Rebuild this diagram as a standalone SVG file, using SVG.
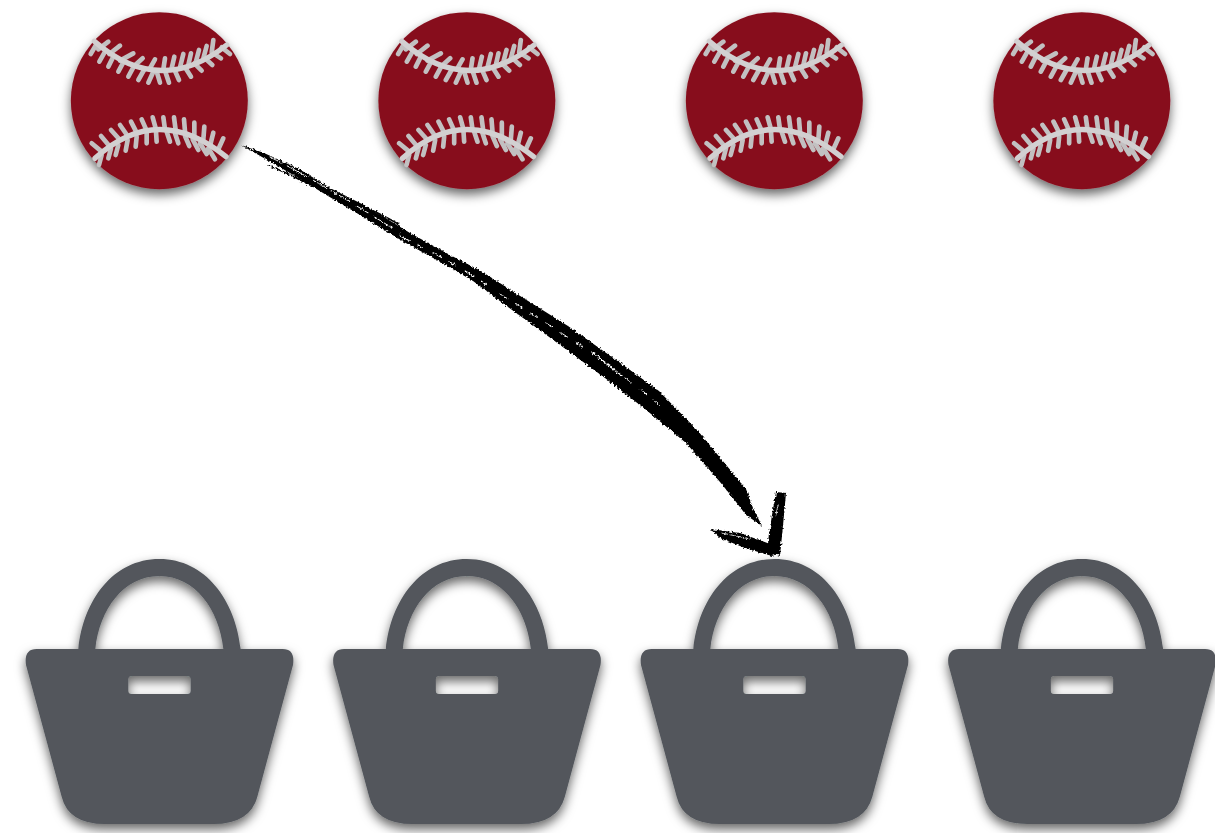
<svg xmlns="http://www.w3.org/2000/svg" width="1215" height="833" viewBox="0 0 1215 833">
<style>
.seam{fill:none;stroke-linecap:round}
.main{stroke:#d2d0d1;stroke-width:16}
.tick{stroke:#c2c0c1;stroke-width:14}
.ball{fill:#87101f}
.bag{fill:#52565c;fill-rule:evenodd}
.ink{fill:#000}
.streak{fill:none;stroke:#fff;stroke-linecap:round}
.strand{fill:none;stroke:#000;stroke-linecap:round}
</style>
<defs>
<filter id="shadow" x="-15%" y="-15%" width="130%" height="135%">
<feDropShadow dx="0" dy="16" stdDeviation="16" flood-color="#000" flood-opacity="0.6"/>
</filter>
<filter id="soft" x="-5%" y="-5%" width="110%" height="110%">
<feGaussianBlur stdDeviation="1.4"/>
</filter>
<filter id="brush" filterUnits="userSpaceOnUse" x="220" y="130" width="590" height="440">
<feTurbulence type="fractalNoise" baseFrequency="0.5" numOctaves="2" seed="4" result="n"/>
<feDisplacementMap in="SourceGraphic" in2="n" scale="4" xChannelSelector="R" yChannelSelector="G"/>
</filter>
<g id="ball-art">
<circle class="ball" cx="298" cy="302" r="265.5" filter="url(#shadow)"/>
<g filter="url(#soft)">
<path class="seam tick" d="M145,125L115,148M180,137L148,162M220,160L180,182M248,175L220,200M285,178L268,208M315,175L310,208M343,170L335,205M370,162L360,202M393,160L385,195M417,150L407,188M440,138L430,175M460,120L455,158M92,162L108,135M118,185L135,155M145,200L160,170M175,215L190,187M205,230L220,202M235,240L252,210M265,248L280,215M300,248L290,215M327,248L315,212M357,240L343,208M393,230L375,202M425,212L403,190M457,195L435,175M483,175L460,160M510,162L485,142"/>
<path class="seam main" d="M103,124 Q298,294 500,135"/>
<path class="seam tick" d="M95,430L125,455M123,408L150,440M153,390L180,420M180,375L203,408M213,365L230,398M245,358L260,392M278,352L288,388M310,352L315,388M342,352L347,390M372,358L375,395M403,368L403,405M433,380L430,418M460,398L452,430M490,415L475,448M117,495L125,465M145,475L153,445M167,465L175,435M197,452L203,420M227,440L230,410M260,430L260,400M290,425L288,395M330,425L320,395M355,430L345,400M388,438L375,408M415,450L398,418M440,462L420,430M465,478L445,445"/>
<path class="seam main" d="M105,475 Q292,305 498,470"/>
</g>
</g>
<g id="bag-art">
<path class="bag" filter="url(#shadow)" d="M80,297 L205,297 C220,150 310,27 448,27 C586,27 676,150 692,297 L818,297 Q856,297 849,345 L742,740 Q720,822 610,822 L285,822 Q175,822 155,740 L48,345 Q41,297 80,297 Z M256,297 L640,297 C628,180 556,78 448,78 C340,78 268,180 256,297 Z M365,378 L532,378 Q542,378 542,388 L542,422 Q542,432 532,432 L365,432 Q355,432 355,422 L355,388 Q355,378 365,378 Z"/>
</g>
</defs>
<g id="ball-1" transform="translate(60,0) scale(0.33333)"><use href="#ball-art"/></g>
<g id="ball-2" transform="translate(367.5,0) scale(0.33333)"><use href="#ball-art"/></g>
<g id="ball-3" transform="translate(675,0) scale(0.33333)"><use href="#ball-art"/></g>
<g id="ball-4" transform="translate(982.5,0) scale(0.33333)"><use href="#ball-art"/></g>
<g id="bag-1" transform="translate(10,550) scale(0.33333)"><use href="#bag-art"/></g>
<g id="bag-2" transform="translate(317.5,550) scale(0.33333)"><use href="#bag-art"/></g>
<g id="bag-3" transform="translate(625,550) scale(0.33333)"><use href="#bag-art"/></g>
<g id="bag-4" transform="translate(932.5,550) scale(0.33333)"><use href="#bag-art"/></g>
<g id="connectors" filter="url(#brush)">
<path class="ink" d="M241,145 L264,153 L299,169 L332,189 L366,206 L410,233 L450,255 L481,271 L517,294 L568,326 L619,362 L659,391 L698,431 L732,472 L746,489 L753,508 L762,526 L746,515 L733,498 L720,482 L686,443 L645,409 L605,378 L556,342 L508,307 L473,281 L444,264 L404,242 L360,215 L328,196 L295,176 L262,157 Z"/>
<path class="strand" stroke-width="1.5" d="M268,165 Q290,174 310,185M353,202 Q378,212 400,225"/>
<path class="streak" stroke-width="1" stroke-dasharray="14 6 22 8" d="M270,157 Q320,182 400,233"/>
<path class="streak" stroke-width="1.2" stroke-dasharray="10 9 6 12" d="M400,236 Q450,260 490,287"/>
<path class="streak" stroke-width="1.6" d="M592,352 L622,376"/>
<path class="streak" stroke-width="1" stroke-dasharray="8 10" d="M500,294 Q550,325 590,352M625,378 Q645,392 660,406"/>
<path class="ink" d="M776,492 L786,493 L784,515 L780,556 L772,553 L768,541 L772,515 Z"/>
<path class="ink" d="M710,529 L740,533 L770,544 L779,553 L772,556 L745,548 L720,538 Z"/>
<path class="streak" stroke-width="0.8" d="M722,533 L750,539M778,505 L776,515"/>
</g>
</svg>
